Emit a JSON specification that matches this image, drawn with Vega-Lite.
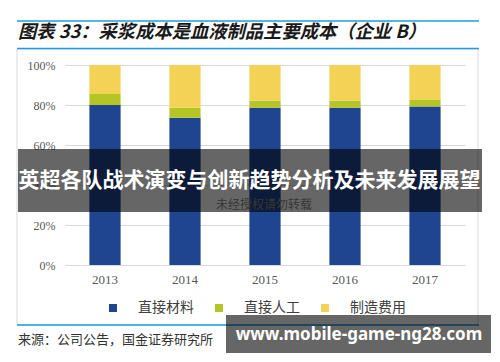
{
  "$schema": "https://vega.github.io/schema/vega-lite/v6.json",
  "width": 400,
  "height": 200,
  "autosize": "none",
  "padding": {"left": 65, "top": 65, "right": 35, "bottom": 97},
  "background": "white",
  "config": {"view": {"stroke": null}},
  "layer": [
    {
      "data": {"values": [{}]},
      "mark": {"type": "rect", "fill": null, "stroke": "#d9d9d9", "strokeWidth": 1},
      "encoding": {"x": {"value": -48}, "x2": {"value": 413}, "y": {"value": -16}, "y2": {"value": 260}}
    },
    {
      "data": {"values": [
        {"year": "2013", "cat": "直接材料", "k": 1, "value": 0.800},
        {"year": "2013", "cat": "直接人工", "k": 2, "value": 0.055},
        {"year": "2013", "cat": "制造费用", "k": 3, "value": 0.145},
        {"year": "2014", "cat": "直接材料", "k": 1, "value": 0.736},
        {"year": "2014", "cat": "直接人工", "k": 2, "value": 0.050},
        {"year": "2014", "cat": "制造费用", "k": 3, "value": 0.214},
        {"year": "2015", "cat": "直接材料", "k": 1, "value": 0.786},
        {"year": "2015", "cat": "直接人工", "k": 2, "value": 0.036},
        {"year": "2015", "cat": "制造费用", "k": 3, "value": 0.178},
        {"year": "2016", "cat": "直接材料", "k": 1, "value": 0.786},
        {"year": "2016", "cat": "直接人工", "k": 2, "value": 0.036},
        {"year": "2016", "cat": "制造费用", "k": 3, "value": 0.178},
        {"year": "2017", "cat": "直接材料", "k": 1, "value": 0.793},
        {"year": "2017", "cat": "直接人工", "k": 2, "value": 0.035},
        {"year": "2017", "cat": "制造费用", "k": 3, "value": 0.172}
      ]},
      "mark": {"type": "bar"},
      "encoding": {
        "x": {"field": "year", "type": "ordinal", "scale": {"paddingInner": 0.61, "paddingOuter": 0.305},
          "axis": {"title": null, "labelAngle": 0, "labelFont": "Liberation Serif", "labelFontSize": 13, "labelColor": "#595959", "labelPadding": 8, "ticks": false, "domain": false}},
        "y": {"field": "value", "type": "quantitative", "stack": "zero", "scale": {"domain": [0, 1]},
          "axis": {"title": null, "format": ".0%", "values": [0, 0.2, 0.4, 0.6, 0.8, 1], "labelFont": "Liberation Serif", "labelFontSize": 12, "labelColor": "#595959", "labelPadding": 10, "ticks": false, "domain": false, "gridColor": "#d9d9d9"}},
        "color": {"field": "cat", "type": "nominal",
          "scale": {"domain": ["直接材料", "直接人工", "制造费用"], "range": ["#1F4590", "#B5C525", "#F4D256"]},
          "legend": {"orient": "none", "legendX": 41, "legendY": 236, "direction": "horizontal", "title": null, "symbolType": "square", "symbolSize": 64, "symbolStrokeWidth": 0, "labelFont": "Noto Sans CJK SC", "labelFontSize": 14, "labelColor": "#404040", "labelOffset": 18, "columnPadding": 18}},
        "order": {"field": "k", "type": "quantitative"}
      }
    },
    {
      "data": {"values": [{}]},
      "mark": {"type": "rule", "stroke": "#1E9AE6", "strokeWidth": 1.5},
      "encoding": {"x": {"value": -48}, "x2": {"value": 414}, "y": {"value": -44}}
    },
    {
      "data": {"values": [{}]},
      "mark": {"type": "rule", "stroke": "#1E9AE6", "strokeWidth": 1.5},
      "encoding": {"x": {"value": -48}, "x2": {"value": 414}, "y": {"value": -16.5}}
    },
    {
      "data": {"values": [{}]},
      "mark": {"type": "rule", "stroke": "#1E9AE6", "strokeWidth": 1.5},
      "encoding": {"x": {"value": -48}, "x2": {"value": 414}, "y": {"value": 260}}
    },
    {
      "data": {"values": [{"t": "图表 33：采浆成本是血液制品主要成本（企业 B）"}]},
      "mark": {"type": "text", "align": "left", "baseline": "middle", "font": "Noto Sans CJK SC", "fontSize": 18.3, "fontStyle": "italic", "fontWeight": "bold", "color": "#1a1a1a"},
      "encoding": {"text": {"field": "t"}, "x": {"value": -47}, "y": {"value": -32}}
    },
    {
      "data": {"values": [{"t": "来源：公司公告，国金证券研究所"}]},
      "mark": {"type": "text", "align": "left", "baseline": "middle", "font": "Noto Sans CJK SC", "fontSize": 13, "color": "#333333"},
      "encoding": {"text": {"field": "t"}, "x": {"value": -47}, "y": {"value": 275}}
    },
    {
      "data": {"values": [{"t": "未经授权请勿转载"}]},
      "mark": {"type": "text", "align": "center", "baseline": "middle", "font": "Noto Sans CJK SC", "fontSize": 12, "color": "#8a8a8a"},
      "encoding": {"text": {"field": "t"}, "x": {"value": 199}, "y": {"value": 140}}
    },
    {
      "data": {"values": [{}]},
      "mark": {"type": "rect", "fill": "#000000", "fillOpacity": 0.6},
      "encoding": {"x": {"value": -47}, "x2": {"value": 417}, "y": {"value": 84}, "y2": {"value": 147}}
    },
    {
      "data": {"values": [{"t": "英超各队战术演变与创新趋势分析及未来发展展望"}]},
      "mark": {"type": "text", "align": "center", "baseline": "middle", "font": "Noto Sans CJK SC", "fontSize": 21, "fontWeight": "bold", "color": "#ffffff"},
      "encoding": {"text": {"field": "t"}, "x": {"value": 184.5}, "y": {"value": 116}}
    },
    {
      "data": {"values": [{}]},
      "mark": {"type": "rect", "fill": "#000000", "fillOpacity": 0.6},
      "encoding": {"x": {"value": 161}, "x2": {"value": 426}, "y": {"value": 250}, "y2": {"value": 288}}
    },
    {
      "data": {"values": [{"t": "www.mobile-game-ng28.com"}]},
      "mark": {"type": "text", "align": "center", "baseline": "middle", "font": "Noto Sans", "fontSize": 17, "fontWeight": "bold", "color": "#ffffff"},
      "encoding": {"text": {"field": "t"}, "x": {"value": 294}, "y": {"value": 270}}
    }
  ]
}
